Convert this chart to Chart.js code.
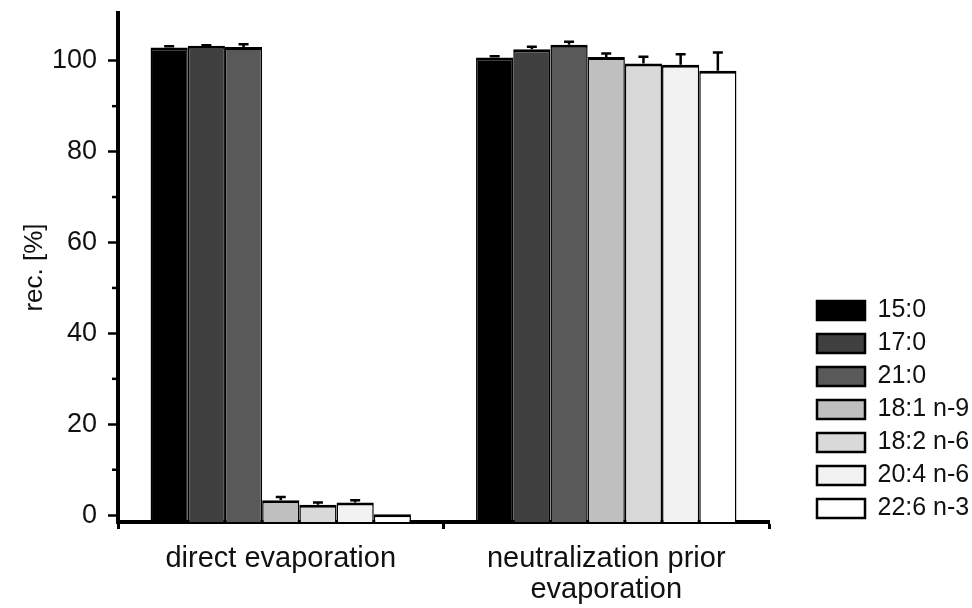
<!DOCTYPE html>
<html>
<head>
<meta charset="utf-8">
<script src="https://cdn.jsdelivr.net/npm/chart.js@4.4.1/dist/chart.umd.min.js"></script>
<style>
  html, body { margin: 0; padding: 0; background: #ffffff; }
  #wrap { width: 972px; height: 608px; }
</style>
</head>
<body>
<div id="wrap"><canvas id="c" width="972" height="608"></canvas></div>
<script>
// ---- data ----
const categories = [['direct evaporation'], ['neutralization prior', 'evaporation']];
const seriesNames = ['15:0', '17:0', '21:0', '18:1 n-9', '18:2 n-6', '20:4 n-6', '22:6 n-3'];
const val_15_0 = [102.9, 100.7];
const val_17_0 = [103.3, 102.5];
const val_21_0 = [103.0, 103.5];
const val_18_1 = [3.3, 100.8];
const val_18_2 = [2.3, 99.4];
const val_20_4 = [2.8, 99.1];
const val_22_6 = [0.2, 97.8];
const err_15_0 = [0.3, 0.3];
const err_17_0 = [0.1, 0.6];
const err_21_0 = [0.6, 0.7];
const err_18_1 = [0.7, 0.8];
const err_18_2 = [0.5, 1.5];
const err_20_4 = [0.5, 2.3];
const err_22_6 = [0.0, 4.0];
const yTickValues = [0, 20, 40, 60, 80, 100];
const yMinorTickValues = [10, 30, 50, 70, 90];
const yMin = -1.5;
const yMax = 110.5;

const seriesValues = [val_15_0, val_17_0, val_21_0, val_18_1, val_18_2, val_20_4, val_22_6];
const seriesErrors = [err_15_0, err_17_0, err_21_0, err_18_1, err_18_2, err_20_4, err_22_6];
const fills = ['#000000', '#404040', '#595959', '#bfbfbf', '#d9d9d9', '#f2f2f2', '#ffffff'];

const FONT = "'Liberation Sans', Arial, Helvetica, sans-serif";
const TXT = '#111111';

const datasets = seriesNames.map((name, i) => ({
  label: name,
  data: seriesValues[i],
  base: yMin,
  backgroundColor: fills[i],
  borderColor: '#000000',
  borderWidth: { top: 3, left: 1.5, right: 1.5, bottom: 0 },
  borderSkipped: 'start',
  categoryPercentage: 0.8,
  barPercentage: 1.0
}));

// error bars (upper only), drawn through the y scale
const errorBars = {
  id: 'errorBars',
  afterDatasetsDraw(chart) {
    const ctx = chart.ctx;
    const y = chart.scales.y;
    chart.data.datasets.forEach((ds, di) => {
      const meta = chart.getDatasetMeta(di);
      meta.data.forEach((bar, i) => {
        const e = seriesErrors[di][i];
        if (!e) return;
        const v = ds.data[i];
        const yv = y.getPixelForValue(v);
        const ye = y.getPixelForValue(v + e);
        ctx.save();
        ctx.strokeStyle = '#000000';
        ctx.lineWidth = 2.5;
        ctx.beginPath();
        ctx.moveTo(bar.x, yv);
        ctx.lineTo(bar.x, ye);
        ctx.moveTo(bar.x - 5, ye);
        ctx.lineTo(bar.x + 5, ye);
        ctx.stroke();
        ctx.restore();
      });
    });
  }
};

// short minor ticks on y axis
const minorTicks = {
  id: 'minorTicks',
  afterDraw(chart) {
    const ctx = chart.ctx;
    const y = chart.scales.y;
    ctx.save();
    ctx.strokeStyle = '#000000';
    ctx.lineWidth = 2.5;
    yMinorTickValues.forEach(v => {
      const py = y.getPixelForValue(v);
      ctx.beginPath();
      ctx.moveTo(y.right - 6, py);
      ctx.lineTo(y.right, py);
      ctx.stroke();
    });
    ctx.restore();
  }
};

// legend placement: reserve space between plot and legend
const legendPlace = {
  id: 'legendPlace',
  beforeInit(chart) {
    const lg = chart.legend;
    const origFit = lg.fit;
    lg.fit = function () {
      origFit.call(this);
      this.width = 203;
    };
  },
  afterLayout(chart) {
    const lg = chart.legend;
    lg.left = lg.right - 163;
    lg.top = 290;
  }
};

new Chart(document.getElementById('c'), {
  type: 'bar',
  data: { labels: categories, datasets },
  plugins: [legendPlace, errorBars, minorTicks],
  options: {
    responsive: false,
    animation: false,
    devicePixelRatio: 1,
    layout: { padding: { left: 15, right: 0, top: 13, bottom: 3 } },
    plugins: {
      tooltip: { enabled: false },
      legend: {
        position: 'right',
        align: 'start',
        labels: {
          boxWidth: 48,
          boxHeight: 19,
          padding: 8,
          textAlign: 'left',
          color: TXT,
          font: { family: FONT, size: 25 },
          generateLabels(chart) {
            const items = Chart.defaults.plugins.legend.labels.generateLabels(chart);
            items.forEach(it => { it.lineWidth = 2.5; it.strokeStyle = '#000000'; });
            return items;
          }
        }
      }
    },
    scales: {
      x: {
        type: 'category',
        offset: true,
        grid: {
          display: true,
          offset: true,
          drawOnChartArea: false,
          drawTicks: true,
          tickLength: 7,
          tickWidth: 3,
          tickColor: '#000000',
          color: '#000000'
        },
        border: { display: true, color: '#000000', width: 4 },
        ticks: {
          color: TXT,
          font: { family: FONT, size: 29, lineHeight: 31 / 29 },
          padding: 14,
          maxRotation: 0,
          autoSkip: false
        },
        afterFit(s) { s.paddingLeft = 0; s.paddingRight = 0; s.height = 83; }
      },
      y: {
        min: yMin,
        max: yMax,
        afterBuildTicks(s) { s.ticks = yTickValues.map(v => ({ value: v })); },
        ticks: {
          stepSize: 20,
          includeBounds: false,
          color: TXT,
          font: { family: FONT, size: 27 },
          padding: 11
        },
        grid: {
          display: true,
          drawOnChartArea: false,
          drawTicks: true,
          tickLength: 10,
          tickWidth: 2.5,
          tickColor: '#000000',
          color: '#000000'
        },
        border: { display: true, color: '#000000', width: 4 },
        title: {
          display: true,
          text: 'rec. [%]',
          color: TXT,
          font: { family: FONT, size: 26 },
          padding: { top: 4, bottom: 1 }
        },
        afterFit(s) { s.paddingTop = 0; s.paddingBottom = 0; s.width = 103; }
      }
    }
  }
});
</script>
</body>
</html>
